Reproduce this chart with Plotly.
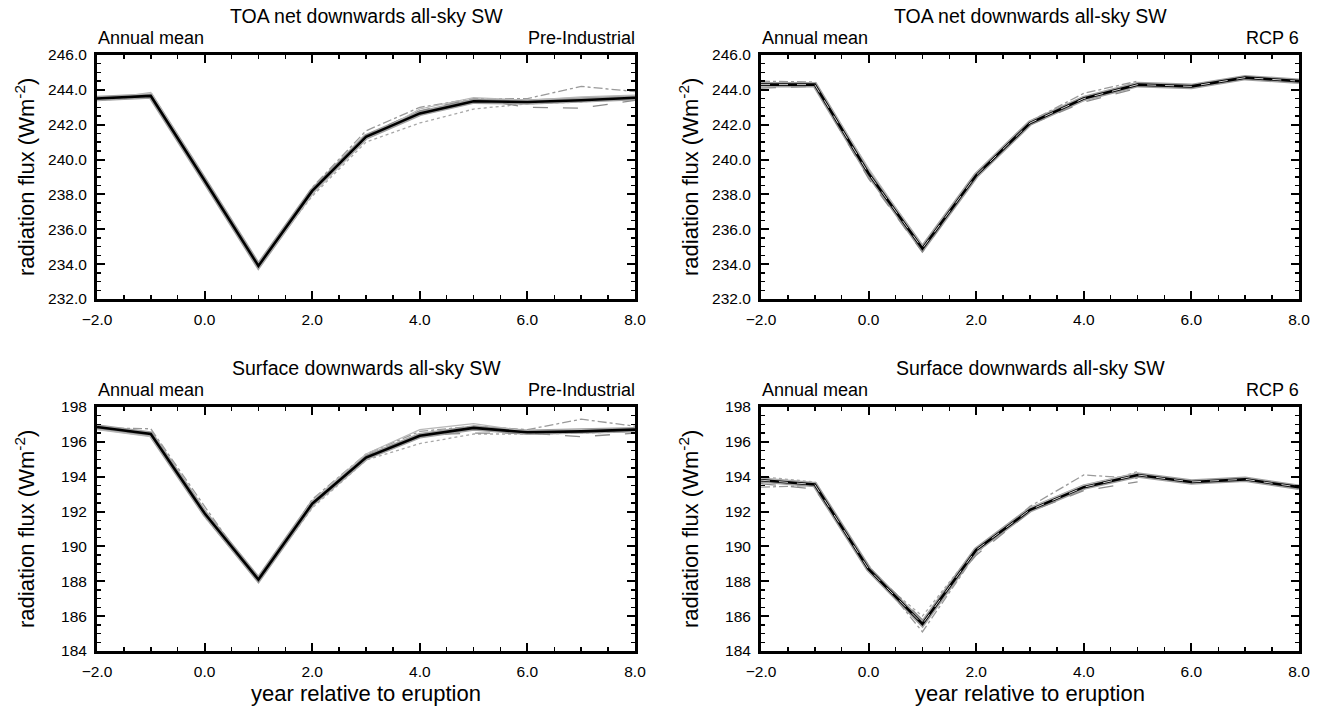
import plotly.graph_objects as go

years = [-2, -1, 0, 1, 2, 3, 4, 5, 6, 7, 8]
years_short = [-2, -1, 0, 1, 2, 3, 4, 5]

# Panel 1: TOA, Pre-Industrial
toa_pi_mean = [243.5, 243.65, 238.8, 233.9, 238.2, 241.3, 242.65, 243.35, 243.3, 243.4, 243.55]
toa_pi_m1 = [243.45, 243.75, 238.9, 233.85, 238.4, 241.65, 243.0, 243.5, 243.5, 244.2, 243.9]
toa_pi_m2 = [243.4, 243.6, 238.7, 233.95, 237.9, 241.0, 242.1, 242.9, 243.2, 243.3, 243.6]
toa_pi_m3 = [243.5, 243.7, 238.85, 233.9, 238.3, 241.4, 242.8, 243.5, 243.0, 242.95, 243.4]
toa_pi_m4 = [243.4, 243.85, 238.9, 233.8, 238.0, 241.2, 242.9, 243.55, 243.4, 243.6, 243.7]

# Panel 2: TOA, RCP 6
toa_rcp_mean = [244.3, 244.3, 239.2, 234.9, 239.1, 242.1, 243.5, 244.3, 244.2, 244.7, 244.5]
toa_rcp_m1 = [244.5, 244.45, 239.0, 234.8, 239.2, 242.2, 243.8, 244.5]
toa_rcp_m2 = [244.4, 244.35, 239.4, 235.0, 239.0, 242.0, 243.6, 244.3]
toa_rcp_m3 = [244.1, 244.2, 238.9, 234.7, 239.0, 242.0, 243.3, 244.1]
toa_rcp_m4 = [244.2, 244.4, 239.5, 235.0, 239.2, 242.2, 243.4, 244.4]

# Panel 3: Surface, Pre-Industrial
sfc_pi_mean = [196.85, 196.45, 191.9, 188.1, 192.45, 195.1, 196.35, 196.8, 196.55, 196.6, 196.7]
sfc_pi_m1 = [196.8, 196.75, 192.3, 187.95, 192.7, 195.3, 196.6, 196.9, 196.7, 197.3, 196.9]
sfc_pi_m2 = [196.9, 196.5, 191.7, 188.0, 192.2, 194.95, 195.9, 196.45, 196.45, 196.5, 196.6]
sfc_pi_m3 = [196.8, 196.4, 191.8, 188.2, 192.4, 195.2, 196.4, 196.5, 196.5, 196.3, 196.5]
sfc_pi_m4 = [196.7, 196.3, 192.0, 188.1, 192.6, 195.3, 196.7, 197.05, 196.6, 196.7, 196.6]

# Panel 4: Surface, RCP 6
sfc_rcp_mean = [193.8, 193.55, 188.7, 185.55, 189.8, 192.1, 193.4, 194.1, 193.7, 193.85, 193.4]
sfc_rcp_m1 = [193.4, 193.5, 188.9, 185.1, 189.6, 192.3, 194.1, 193.9]
sfc_rcp_m2 = [194.0, 193.7, 188.6, 186.0, 189.9, 192.2, 193.3, 194.3]
sfc_rcp_m3 = [193.6, 193.3, 188.8, 185.8, 189.5, 192.0, 193.2, 193.7]
sfc_rcp_m4 = [193.9, 193.6, 188.6, 185.5, 189.7, 192.2, 193.5, 194.2]

titles = ["TOA net downwards all-sky SW", "TOA net downwards all-sky SW",
          "Surface downwards all-sky SW", "Surface downwards all-sky SW"]
left_labels = ["Annual mean"] * 4
right_labels = ["Pre-Industrial", "RCP 6", "Pre-Industrial", "RCP 6"]
y_ranges = [[232, 246], [232, 246], [184, 198], [184, 198]]
y_formats = [".1f", ".1f", "d", "d"]
x_ticks = [-2, 0, 2, 4, 6, 8]
x_title = "year relative to eruption"
y_title = "radiation flux (Wm<sup>-2</sup>)"

panels = [
    (toa_pi_mean, [toa_pi_m1, toa_pi_m2, toa_pi_m3, toa_pi_m4], False),
    (toa_rcp_mean, [toa_rcp_m1, toa_rcp_m2, toa_rcp_m3, toa_rcp_m4], True),
    (sfc_pi_mean, [sfc_pi_m1, sfc_pi_m2, sfc_pi_m3, sfc_pi_m4], False),
    (sfc_rcp_mean, [sfc_rcp_m1, sfc_rcp_m2, sfc_rcp_m3, sfc_rcp_m4], True),
]

W, H = 1322, 712
PLOT_LEFT = [97, 761]
PLOT_W = 538
PLOT_TOP = [55, 407]
PLOT_H = 244
xdoms = [[PLOT_LEFT[c] / W, (PLOT_LEFT[c] + PLOT_W) / W] for c in range(2)]
ydoms = [[1 - (PLOT_TOP[r] + PLOT_H) / H, 1 - PLOT_TOP[r] / H] for r in range(2)]

FONT = "Liberation Sans, Arial, Helvetica, sans-serif"
fig = go.Figure()

member_styles = [
    dict(color="#9a9a9a", dash="dashdot", width=1.3),
    dict(color="#a8a8a8", dash="dot", width=1.3),
    dict(color="#8c8c8c", dash="longdash", width=1.3),
    dict(color="#b8b8b8", dash="solid", width=1.2),
]

layout = {}
for i, (mean, members, short) in enumerate(panels):
    col = i % 2
    row = i // 2
    n = i + 1
    xa = "x" if n == 1 else f"x{n}"
    ya = "y" if n == 1 else f"y{n}"
    xs_members = years_short if short else years
    fig.add_trace(go.Scatter(x=years, y=mean, mode="lines", xaxis=xa, yaxis=ya,
                             line=dict(color="#a0a0a0", width=5.5), showlegend=False,
                             hoverinfo="skip"))
    for m, st in zip(members, member_styles):
        fig.add_trace(go.Scatter(x=xs_members, y=m, mode="lines", xaxis=xa, yaxis=ya,
                                 line=st, showlegend=False))
    fig.add_trace(go.Scatter(x=years, y=mean, mode="lines", xaxis=xa, yaxis=ya,
                             line=dict(color="black", width=2.6), showlegend=False))
    if short:
        fig.add_trace(go.Scatter(x=years, y=mean, mode="lines", xaxis=xa, yaxis=ya,
                                 line=dict(color="#d0d0d0", width=1.0, dash="dash"),
                                 showlegend=False))

    axcommon = dict(showline=True, linecolor="black", linewidth=3, mirror="allticks",
                    ticks="inside", ticklen=8, tickwidth=2, tickcolor="black",
                    showgrid=False, zeroline=False, automargin=False,
                    ticklabelstandoff=4,
                    tickfont=dict(family=FONT, size=15.5, color="black"))
    xkey = "xaxis" if n == 1 else f"xaxis{n}"
    ykey = "yaxis" if n == 1 else f"yaxis{n}"
    layout[xkey] = dict(axcommon, domain=xdoms[col], range=[-2, 8], anchor=ya,
                        tickvals=x_ticks, tickformat=".1f",
                        minor=dict(dtick=0.5, tick0=-2, ticks="inside", ticklen=4,
                                   tickwidth=1.5, tickcolor="black", showgrid=False))
    ylo, yhi = y_ranges[i]
    layout[ykey] = dict(axcommon, domain=ydoms[row], range=[ylo, yhi], anchor=xa,
                        tickvals=list(range(ylo, yhi + 1, 2)), tickformat=y_formats[i],
                        minor=dict(dtick=0.5, tick0=ylo, ticks="inside", ticklen=4,
                                   tickwidth=1.5, tickcolor="black", showgrid=False))

annotations = []
for i in range(4):
    col = i % 2
    row = i // 2
    x0, x1 = xdoms[col]
    y0, y1 = ydoms[row]
    top_px = PLOT_TOP[row]
    annotations.append(dict(text=titles[i], x=(x0 + x1) / 2, y=1 - (top_px - 26) / H,
                            xref="paper", yref="paper", showarrow=False,
                            xanchor="center", yanchor="bottom",
                            font=dict(family=FONT, size=19.5, color="black")))
    annotations.append(dict(text=left_labels[i], x=x0, y=1 - (top_px - 5) / H,
                            xref="paper", yref="paper", showarrow=False,
                            xanchor="left", yanchor="bottom", xshift=-1,
                            font=dict(family=FONT, size=18, color="black")))
    annotations.append(dict(text=right_labels[i], x=x1, y=1 - (top_px - 5) / H,
                            xref="paper", yref="paper", showarrow=False,
                            xanchor="right", yanchor="bottom", xshift=2,
                            font=dict(family=FONT, size=18, color="black")))
    annotations.append(dict(text=y_title, x=(25 if col == 0 else 689) / W,
                            y=(y0 + y1) / 2, xref="paper", yref="paper",
                            showarrow=False, textangle=-90,
                            xanchor="center", yanchor="middle",
                            font=dict(family=FONT, size=22, color="black")))
    if row == 1:
        annotations.append(dict(text=x_title, x=(x0 + x1) / 2, y=1 - 693 / H,
                                xref="paper", yref="paper", showarrow=False,
                                xanchor="center", yanchor="middle",
                                font=dict(family=FONT, size=22, color="black")))

fig.update_layout(template="none", width=W, height=H,
                  margin=dict(l=0, r=0, t=0, b=0, pad=0),
                  paper_bgcolor="white", plot_bgcolor="white",
                  font=dict(family=FONT, color="black"),
                  annotations=annotations, **layout)

fig.write_html("out.html",
               config={"displayModeBar": False, "staticPlot": True},
               post_script="document.body.style.margin='0px';"
                           "document.body.style.overflow='hidden';")
